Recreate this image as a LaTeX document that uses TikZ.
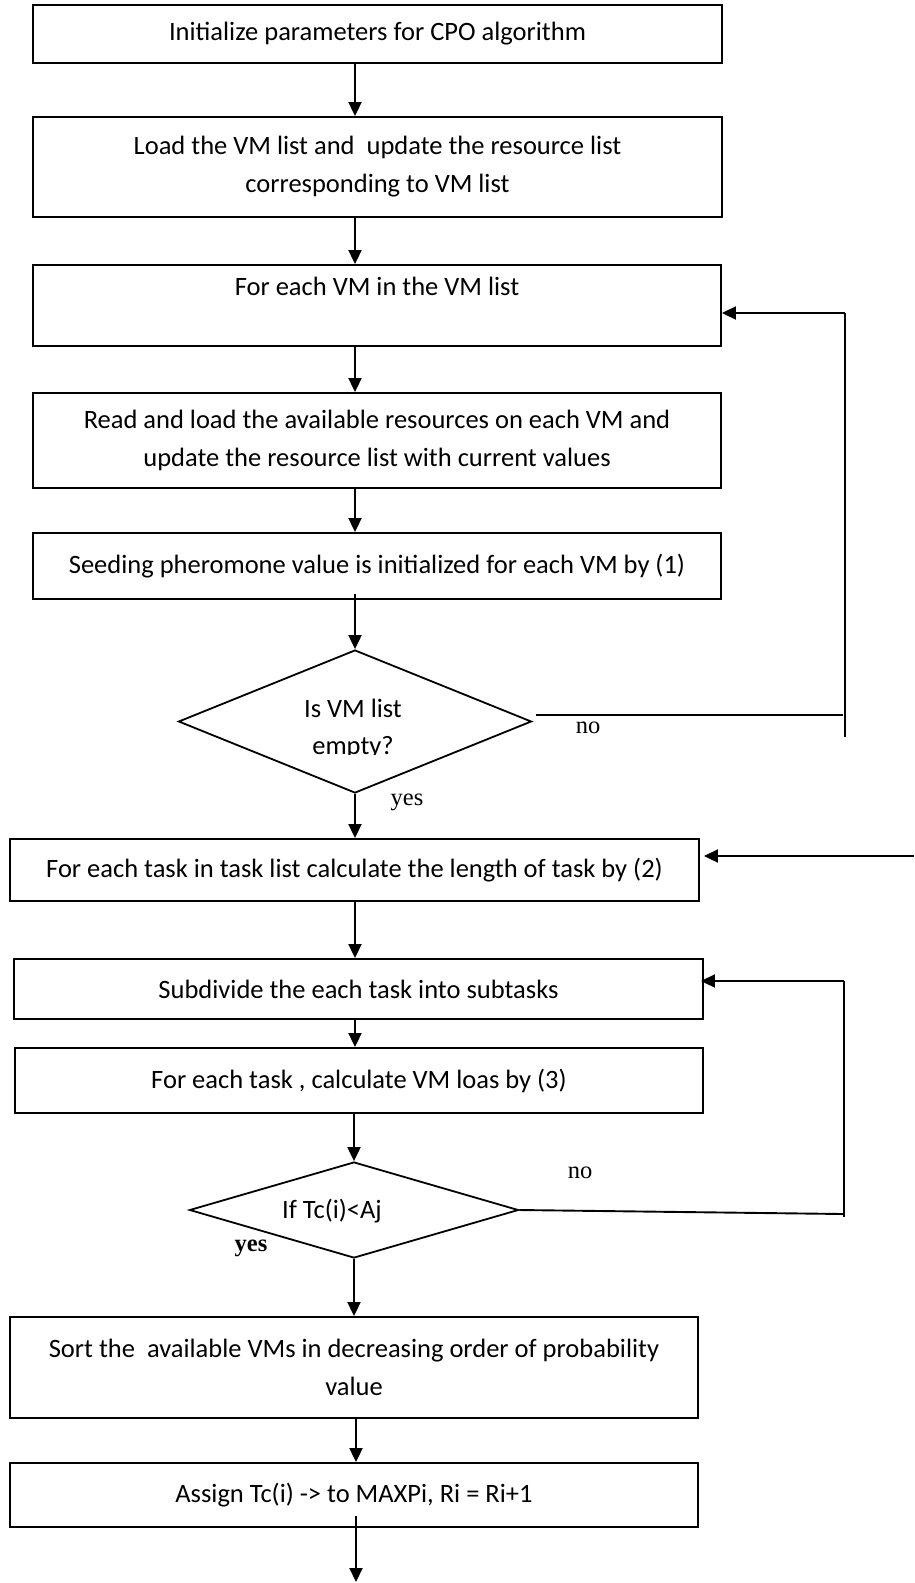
\documentclass[tikz,border=0pt]{standalone}
\usepackage{fontspec}
\setmainfont{Carlito}
\newfontfamily\serifface{Liberation Serif}
\usetikzlibrary{arrows.meta,shapes.geometric}

\begin{document}
\begin{tikzpicture}[x=1pt,y=-1pt,
  pbox/.style={draw, line width=1.9pt, inner sep=0pt, align=center,
    font=\fontsize{26.5}{38}\selectfont},
  dmd/.style={draw, diamond, line width=1.8pt, inner sep=0pt},
  dtext/.style={align=center, inner sep=0pt, font=\fontsize{26.5}{37}\selectfont},
  lbl/.style={inner sep=0pt, font=\serifface\fontsize{24.5}{28}\selectfont},
  ln/.style={line width=1.9pt},
  arr/.style={line width=2pt, -{Triangle[length=14pt,width=13pt]}}]

\useasboundingbox (0,0) rectangle (914,1583);

% main column of process boxes
\node[pbox, minimum width=689pt, minimum height=58pt]  (b1) at (377.5,34)   {Initialize parameters for CPO algorithm};
\node[pbox, minimum width=689pt, minimum height=100pt] (b2) at (377.5,167)  {Load the VM list and \ update the resource list\\corresponding to VM list};
\node[pbox, minimum width=688pt, minimum height=81pt]  (b3) at (377,305.5)  {For each VM in the VM list\\\mbox{}};
\node[pbox, minimum width=688pt, minimum height=95pt]  (b4) at (377,440.5)  {Read and load the available resources on each VM and\\update the resource list with current values};
\node[pbox, minimum width=688pt, minimum height=66pt]  (b5) at (377,566)    {Seeding pheromone value is initialized for each VM by (1)};

\node[dmd, minimum width=353pt, minimum height=143pt] (d1) at (355,721.5) {};
\begin{scope}
  \clip (200,680) rectangle (510,754);
  \node[dtext] (d1t) at (353,728.5) {Is VM list\\empty?};
\end{scope}

\node[pbox, minimum width=689pt, minimum height=62pt]  (b6) at (354.5,870)  {For each task in task list calculate the length of task by (2)};
\node[pbox, minimum width=689pt, minimum height=60pt]  (b7) at (358.5,989)  {Subdivide the each task into subtasks};
\node[pbox, minimum width=688pt, minimum height=65pt]  (b8) at (359,1080.5) {For each task , calculate VM loas by (3)};

\node[dmd, minimum width=329pt, minimum height=96pt] (d2) at (354,1210) {};
\node[dtext] (d2t) at (332,1211) {If Tc(i)<Aj};

\node[pbox, minimum width=688pt, minimum height=101pt] (b9)  at (354,1367.5) {Sort the \ available VMs in decreasing order of probability\\value};
\node[pbox, minimum width=688pt, minimum height=64pt]  (b10) at (354,1495)   {Assign Tc(i) -> to MAXPi, Ri = Ri+1};

% vertical flow
\coordinate (ax) at (355,0);
\coordinate (end) at (356,1582);
\draw[arr] (b1.south -| ax) -- (b2.north -| ax);
\draw[arr] (b2.south -| ax) -- (b3.north -| ax);
\draw[arr] (b3.south -| ax) -- (b4.north -| ax);
\draw[arr] (b4.south -| ax) -- (b5.north -| ax);
\draw[arr] ([yshift=6pt]b5.south -| ax) -- (d1.north);
\draw[arr] (d1.south) -- (b6.north -| ax);
\draw[arr] (b6.south -| ax) -- (b7.north -| ax);
\draw[arr] (b7.south -| ax) -- (b8.north -| ax);
\draw[arr] (b8.south -| d2.north) -- (d2.north);
\draw[arr] (d2.south) -- (b9.north -| d2.south);
\draw[arr] (b9.south -| end) -- (b10.north -| end);
\draw[arr] ([yshift=12pt]b10.south -| end) -- (end);

% "no" loop back to the VM list
\coordinate (n1a) at (536,715);
\coordinate (n1b) at (843,715);
\coordinate (n1c) at (845,737);
\coordinate (n1d) at (845,313);
\draw[ln] (n1a) -- (n1b);
\draw[ln] (n1c) -- (n1d);
\draw[arr] (n1d) -- (n1d -| b3.east);

% incoming arrow to the task list
\coordinate (t1) at (914,856);
\draw[arr] (t1) -- ([xshift=4pt]t1 -| b6.east);

% "no" loop back to the subdivision step
\coordinate (n2b) at (843,1214);
\coordinate (n2c) at (844,1217);
\coordinate (n2d) at (844,981);
\draw[ln] (d2.east) -- (n2b);
\draw[ln] (n2c) -- (n2d);
\draw[arr] (n2d) -- ([xshift=-3pt]n2d -| b7.east);

% branch labels
\node[lbl] (no1)  at (588,728)  {no};
\node[lbl] (yes1) at (407,802)  {yes};
\node[lbl] (no2)  at (580,1173) {no};
\node[lbl, font=\serifface\bfseries\fontsize{24.5}{28}\selectfont] (yes2) at (251,1248) {yes};
\end{tikzpicture}
\end{document}
